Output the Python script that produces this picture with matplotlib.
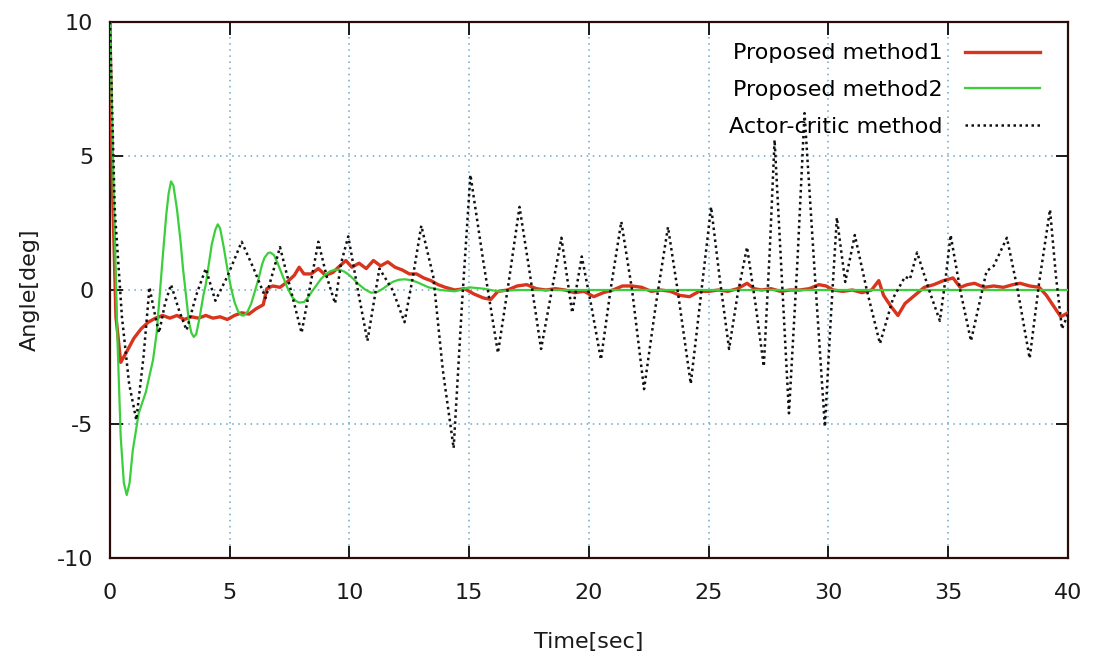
import numpy as np
import matplotlib.pyplot as plt

# --------- Data ---------

t_m1 = [0, 0.1, 0.25, 0.45, 0.7, 1.0, 1.3, 1.6, 1.9, 2.2, 2.5, 2.8, 3.1, 3.4, 3.7, 4.0,
        4.3, 4.6, 4.9, 5.2, 5.5, 5.8, 6.1, 6.4, 6.55, 6.8, 7.1, 7.4, 7.7, 7.9, 8.1, 8.4,
        8.7, 9.0, 9.3, 9.6, 9.85, 10.1, 10.4, 10.7, 11.0, 11.3, 11.6, 11.9, 12.2, 12.5,
        12.8, 13.1, 13.4, 13.7, 14.0, 14.4, 14.8, 15.2, 15.6, 15.9, 16.2, 16.6, 17.0,
        17.4, 17.8, 18.2, 18.6, 19.0, 19.4, 19.8, 20.2, 20.6, 21.0, 21.4, 21.8, 22.2,
        22.6, 23.0, 23.4, 23.8, 24.2, 24.6, 25.0, 25.4, 25.8, 26.2, 26.6, 26.9, 27.2,
        27.6, 28.0, 28.4, 28.8, 29.2, 29.6, 29.9, 30.2, 30.6, 31.0, 31.4, 31.8, 32.1,
        32.3, 32.6, 32.9, 33.2, 33.6, 34.0, 34.4, 34.8, 35.2, 35.5, 35.8, 36.1, 36.5,
        36.9, 37.3, 37.7, 38.0, 38.4, 38.8, 39.1, 39.4, 39.7, 40.0]
y_m1 = [10, 4, -1, -2.7, -2.3, -1.8, -1.45, -1.2, -1.05, -0.95, -1.05, -0.95, -1.1, -1.0,
        -1.05, -0.95, -1.05, -1.0, -1.1, -0.95, -0.85, -0.9, -0.7, -0.55, 0.05, 0.15, 0.1,
        0.3, 0.55, 0.85, 0.6, 0.6, 0.8, 0.55, 0.65, 0.9, 1.1, 0.85, 1.0, 0.8, 1.1, 0.9,
        1.05, 0.85, 0.75, 0.6, 0.6, 0.45, 0.35, 0.2, 0.1, 0.0, 0.05, -0.15, -0.3, -0.35,
        -0.05, 0.0, 0.15, 0.2, 0.05, 0.0, 0.05, 0.0, -0.1, -0.05, -0.25, -0.1, 0.0, 0.15,
        0.15, 0.1, -0.05, 0.0, -0.05, -0.2, -0.25, -0.05, -0.05, 0.0, -0.05, 0.05, 0.25,
        0.05, 0.0, 0.05, -0.05, 0.0, 0.0, 0.05, 0.2, 0.15, 0.0, -0.05, 0.0, -0.1, 0.0,
        0.35, -0.2, -0.6, -0.95, -0.5, -0.2, 0.1, 0.2, 0.35, 0.45, 0.1, 0.2, 0.25, 0.1,
        0.15, 0.1, 0.2, 0.25, 0.15, 0.1, -0.2, -0.6, -1.0, -0.85]

t_m2 = [0, 0.15, 0.3, 0.45, 0.58, 0.7, 0.82, 0.95, 1.2, 1.5, 1.8, 1.95, 2.05, 2.2, 2.35,
        2.45, 2.55, 2.65, 2.8, 2.95, 3.05, 3.2, 3.3, 3.4, 3.5, 3.6, 3.75, 3.9, 4.0, 4.15,
        4.25, 4.4, 4.5, 4.6, 4.75, 4.9, 5.05, 5.2, 5.35, 5.5, 5.6, 5.75, 5.9, 6.05, 6.2,
        6.35, 6.45, 6.6, 6.7, 6.85, 7.0, 7.2, 7.4, 7.6, 7.75, 7.9, 8.1, 8.25, 8.4, 8.6,
        8.8, 9.0, 9.2, 9.4, 9.6, 9.8, 10.0, 10.2, 10.4, 10.65, 10.9, 11.15, 11.4, 11.6,
        11.8, 12.05, 12.3, 12.55, 12.8, 13.05, 13.3, 13.8, 14.4, 15.0, 15.6, 16.2, 17.0,
        20.0, 25.0, 30.0, 35.0, 40.0]
y_m2 = [10, 4, -1.5, -5.5, -7.2, -7.65, -7.2, -6.0, -4.6, -3.8, -2.6, -1.6, -0.5, 1.2,
        2.8, 3.6, 4.05, 3.9, 3.0, 1.8, 0.8, -0.4, -1.2, -1.6, -1.75, -1.65, -1.0, -0.2,
        0.2, 1.1, 1.7, 2.25, 2.45, 2.3, 1.6, 0.8, 0.1, -0.45, -0.8, -0.95, -0.95, -0.8,
        -0.5, -0.05, 0.4, 0.95, 1.2, 1.38, 1.4, 1.3, 1.0, 0.55, 0.1, -0.25, -0.4, -0.47,
        -0.45, -0.3, -0.1, 0.15, 0.4, 0.58, 0.7, 0.76, 0.75, 0.68, 0.55, 0.38, 0.2, 0.02,
        -0.1, -0.08, 0.05, 0.18, 0.3, 0.38, 0.4, 0.37, 0.3, 0.2, 0.1, 0.0, -0.05, 0.1,
        0.05, -0.05, 0.0, 0.0, 0.0, 0.0, 0.0, 0.0]

t_ac = [0, 0.2, 0.5, 0.8, 1.1, 1.4, 1.65, 1.85, 2.05, 2.3, 2.55, 2.9, 3.2, 3.6, 4.0, 4.4,
        4.9, 5.5, 6.0, 6.5, 7.1, 7.55, 8.0, 8.35, 8.7, 9.05, 9.4, 9.65, 9.95, 10.35, 10.75,
        11.25, 11.8, 12.3, 12.65, 13.0, 13.5, 13.9, 14.35, 14.7, 15.05, 15.6, 16.2, 16.65,
        17.1, 17.5, 18.0, 18.45, 18.85, 19.3, 19.7, 20.1, 20.5, 20.9, 21.35, 21.8, 22.3,
        22.8, 23.3, 23.7, 24.25, 24.7, 25.1, 25.45, 25.85, 26.2, 26.6, 26.95, 27.3, 27.55,
        27.75, 28.05, 28.35, 28.7, 29.0, 29.4, 29.85, 30.1, 30.35, 30.7, 31.1, 31.6, 32.15,
        32.7, 33.2, 33.4, 33.7, 34.2, 34.65, 34.9, 35.1, 35.5, 35.95, 36.3, 36.6, 36.9,
        37.45, 37.9, 38.4, 38.8, 39.25, 39.5, 39.75, 40.0]
y_ac = [10, 3, -1.0, -3.5, -4.85, -2.5, 0.1, -0.8, -1.6, -0.5, 0.2, -0.8, -1.5, -0.2, 0.8,
        -0.4, 0.5, 1.8, 0.8, -0.3, 1.6, 0.0, -1.6, 0.1, 1.8, 0.5, -0.5, 1.0, 2.0, 0.0, -1.9,
        0.8, 0.0, -1.2, 0.5, 2.4, 0.5, -3.0, -5.9, -0.5, 4.3, 1.0, -2.35, 0.3, 3.1, 0.8,
        -2.2, 0.0, 1.95, -0.85, 1.25, -0.6, -2.6, 0.0, 2.55, 0.0, -3.7, -0.5, 2.35, 0.0,
        -3.5, 0.0, 3.1, 0.5, -2.2, -0.2, 1.6, -0.5, -2.85, 1.5, 5.6, 0.5, -4.6, 1.0, 6.6,
        1.0, -5.1, -1.0, 2.7, 0.3, 2.05, 0.0, -2.0, -0.3, 0.5, 0.4, 1.4, 0.0, -1.15, 0.5,
        2.05, 0.0, -1.9, -0.5, 0.7, 0.9, 1.95, 0.0, -2.55, 0.3, 3.0, 0.5, -1.45, -0.9]

labels = ['Proposed method1', 'Proposed method2', 'Actor-critic method']

# --------- Plot ---------

plt.rcParams['font.family'] = 'DejaVu Sans'
plt.rcParams['axes.unicode_minus'] = False
fig = plt.figure(figsize=(10.93, 6.64), dpi=100)
ax = fig.add_axes([0.1006, 0.1596, 0.8765, 0.8073])

ax.plot(t_m1, y_m1, color='#d8341e', lw=2.4, label=labels[0], zorder=3)
ax.plot(t_m2, y_m2, color='#3ccf3c', lw=1.6, label=labels[1], zorder=4)
ax.plot(t_ac, y_ac, color='#111111', lw=1.8, linestyle=(0, (1, 1.4)),
        label=labels[2], zorder=5)

ax.set_xlim(0, 40)
ax.set_ylim(-10, 10)
ax.set_xticks(np.arange(0, 41, 5))
ax.set_yticks([-10, -5, 0, 5, 10])
ax.grid(True, color='#6aa6c8', linestyle=(0, (1, 3)), lw=1.1)
ax.tick_params(direction='in', length=9, width=1.4, top=True, right=True,
               labelsize=16, colors='#1a1a1a')
ax.tick_params(axis='x', pad=18)
ax.tick_params(axis='y', pad=12)
for s in ax.spines.values():
    s.set_linewidth(1.6)
    s.set_color('#2a0c08')

ax.set_xlabel('Time[sec]', fontsize=16, labelpad=21, color='#1a1a1a')
ax.set_ylabel('Angle[deg]', fontsize=16, labelpad=12, color='#1a1a1a')

ax.legend(loc='upper right', bbox_to_anchor=(0.985, 0.985), frameon=False,
          markerfirst=False, fontsize=16, handlelength=3.4,
          labelspacing=0.75, handletextpad=1.0, borderaxespad=0.2)

plt.savefig('out.png', dpi=100)
